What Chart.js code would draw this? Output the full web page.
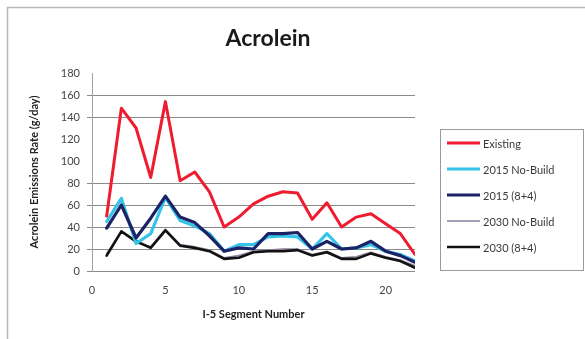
<!DOCTYPE html>
<html>
<head>
<meta charset="utf-8">
<title>Acrolein</title>
<script src="https://cdn.jsdelivr.net/npm/chart.js@4/dist/chart.umd.min.js"></script>
<style>
  html, body { margin: 0; padding: 0; background: #ffffff; }
  canvas { display: block; }
</style>
</head>
<body>
<canvas id="chart" width="585" height="339"></canvas>
<script>
// I-5 segments along the x axis
const segments = [1, 2, 3, 4, 5, 6, 7, 8, 9, 10, 11, 12, 13, 14, 15, 16, 17, 18, 19, 20, 21, 22];

// Acrolein emissions rate (g/day) per segment
const existing      = [50, 148, 130, 85, 154, 82, 90, 72, 40, 49, 61, 68, 72, 71, 47, 62, 40, 49, 52, 43, 34, 15];
const noBuild2015   = [45, 66, 25, 34, 67, 46, 41, 34, 18, 24, 24, 31, 32, 31, 20, 34, 20, 21, 24, 18, 15, 9];
const build2015     = [39, 60, 30, 48, 68, 49, 44, 32, 18, 21, 20, 34, 34, 35, 20, 27, 20, 21, 27, 18, 14, 8];
const noBuild2030   = [16, 36, 26, 22, 38, 24, 22, 19, 12, 14, 18, 19, 20, 20, 15, 18, 12, 13, 17, 13, 10, 5];
const build2030     = [14, 36, 27, 21, 37, 23, 21, 18, 11, 12, 17, 18, 18, 19, 14, 17, 11, 11, 16, 12, 9, 3];

const seriesNames = ['Existing', '2015 No-Build', '2015 (8+4)', '2030 No-Build', '2030 (8+4)'];
const yTicks = [0, 20, 40, 60, 80, 100, 120, 140, 160, 180];
const xTicks = [0, 5, 10, 15, 20];
const faintGridValues = [100, 120, 180];

const FONT = 'Lato, "Open Sans", "DejaVu Sans", sans-serif';

function points(values) {
  return segments.map((s, i) => ({ x: s, y: values[i] }));
}

const styles = [
  { color: '#ee1c2e', width: 3,   order: 0 },
  { color: '#35c4ea', width: 3.2, order: 2 },
  { color: '#1b2366', width: 3.2, order: 1 },
  { color: '#8d7f9c', width: 1.6, order: 4 },
  { color: '#111111', width: 2.6, order: 3 }
];
const seriesValues = [existing, noBuild2015, build2015, noBuild2030, build2030];

const datasets = seriesValues.map((vals, i) => ({
  label: seriesNames[i],
  data: points(vals),
  borderColor: styles[i].color,
  backgroundColor: styles[i].color,
  borderWidth: styles[i].width,
  pointRadius: 0,
  tension: 0,
  fill: false,
  order: styles[i].order,
  borderJoinStyle: 'round',
  borderCapStyle: 'round'
}));

// Frame, title and legend drawn around the plot
const decorations = {
  id: 'decorations',
  beforeDraw(chart) {
    const ctx = chart.ctx;
    ctx.save();
    ctx.fillStyle = '#ffffff';
    ctx.fillRect(0, 0, chart.width, chart.height);
    ctx.strokeStyle = '#b8b8b8';
    ctx.lineWidth = 1.5;
    ctx.strokeRect(7.5, 7.5, 700, 400);
    ctx.restore();
  },
  afterDraw(chart) {
    const ctx = chart.ctx;
    ctx.save();
    // title
    ctx.fillStyle = '#1a1a1a';
    ctx.font = 'bold 23px ' + FONT;
    ctx.textAlign = 'center';
    ctx.textBaseline = 'middle';
    ctx.fillText('Acrolein', 268, 39);

    // legend box
    ctx.strokeStyle = '#9a9a9a';
    ctx.lineWidth = 1;
    ctx.strokeRect(440.5, 129.5, 143, 141);
    ctx.font = '11px ' + FONT;
    ctx.textAlign = 'left';
    ctx.fillStyle = '#3a3a3a';
    seriesNames.forEach((name, i) => {
      const y = 143 + i * 26;
      ctx.strokeStyle = styles[i].color;
      ctx.lineWidth = styles[i].width;
      ctx.beginPath();
      ctx.moveTo(447, y);
      ctx.lineTo(480, y);
      ctx.stroke();
      ctx.fillText(name, 483, y + 1);
    });
    ctx.restore();
  }
};

new Chart(document.getElementById('chart'), {
  type: 'line',
  data: { datasets },
  options: {
    responsive: false,
    animation: false,
    devicePixelRatio: 1,
    layout: { padding: { left: 0, right: 170, top: 73, bottom: 18 } },
    plugins: {
      legend: { display: false },
      title: { display: false },
      tooltip: { enabled: false }
    },
    scales: {
      x: {
        type: 'linear',
        min: 0,
        max: 22,
        afterFit(scale) { scale.height = 50; },
        afterBuildTicks(scale) { scale.ticks = xTicks.map(v => ({ value: v })); },
        grid: { display: false, drawTicks: false },
        border: { display: false },
        ticks: {
          padding: 13,
          color: '#444444',
          font: { family: FONT, size: 11 },
          maxRotation: 0
        },
        title: {
          display: true,
          text: 'I-5 Segment Number',
          color: '#222222',
          font: { family: FONT, size: 11, weight: 'bold' },
          padding: { top: 0, bottom: 0 }
        }
      },
      y: {
        min: 0,
        max: 180,
        afterFit(scale) { scale.width = 92; },
        afterBuildTicks(scale) { scale.ticks = yTicks.map(v => ({ value: v })); },
        grid: {
          color: c => (c.tick && faintGridValues.includes(c.tick.value)) ? 'rgba(0,0,0,0)' : '#8a8a8a',
          lineWidth: 1,
          tickLength: 5
        },
        border: { display: true, color: '#a0a0a0', width: 1 },
        ticks: {
          padding: 7,
          color: '#444444',
          font: { family: FONT, size: 11 }
        },
        title: {
          display: true,
          text: 'Acrolein Emissions Rate (g/day)',
          color: '#222222',
          font: { family: FONT, size: 11, weight: 'bold' },
          padding: { top: 28, bottom: 0 }
        }
      }
    }
  },
  plugins: [decorations]
});
</script>
</body>
</html>
